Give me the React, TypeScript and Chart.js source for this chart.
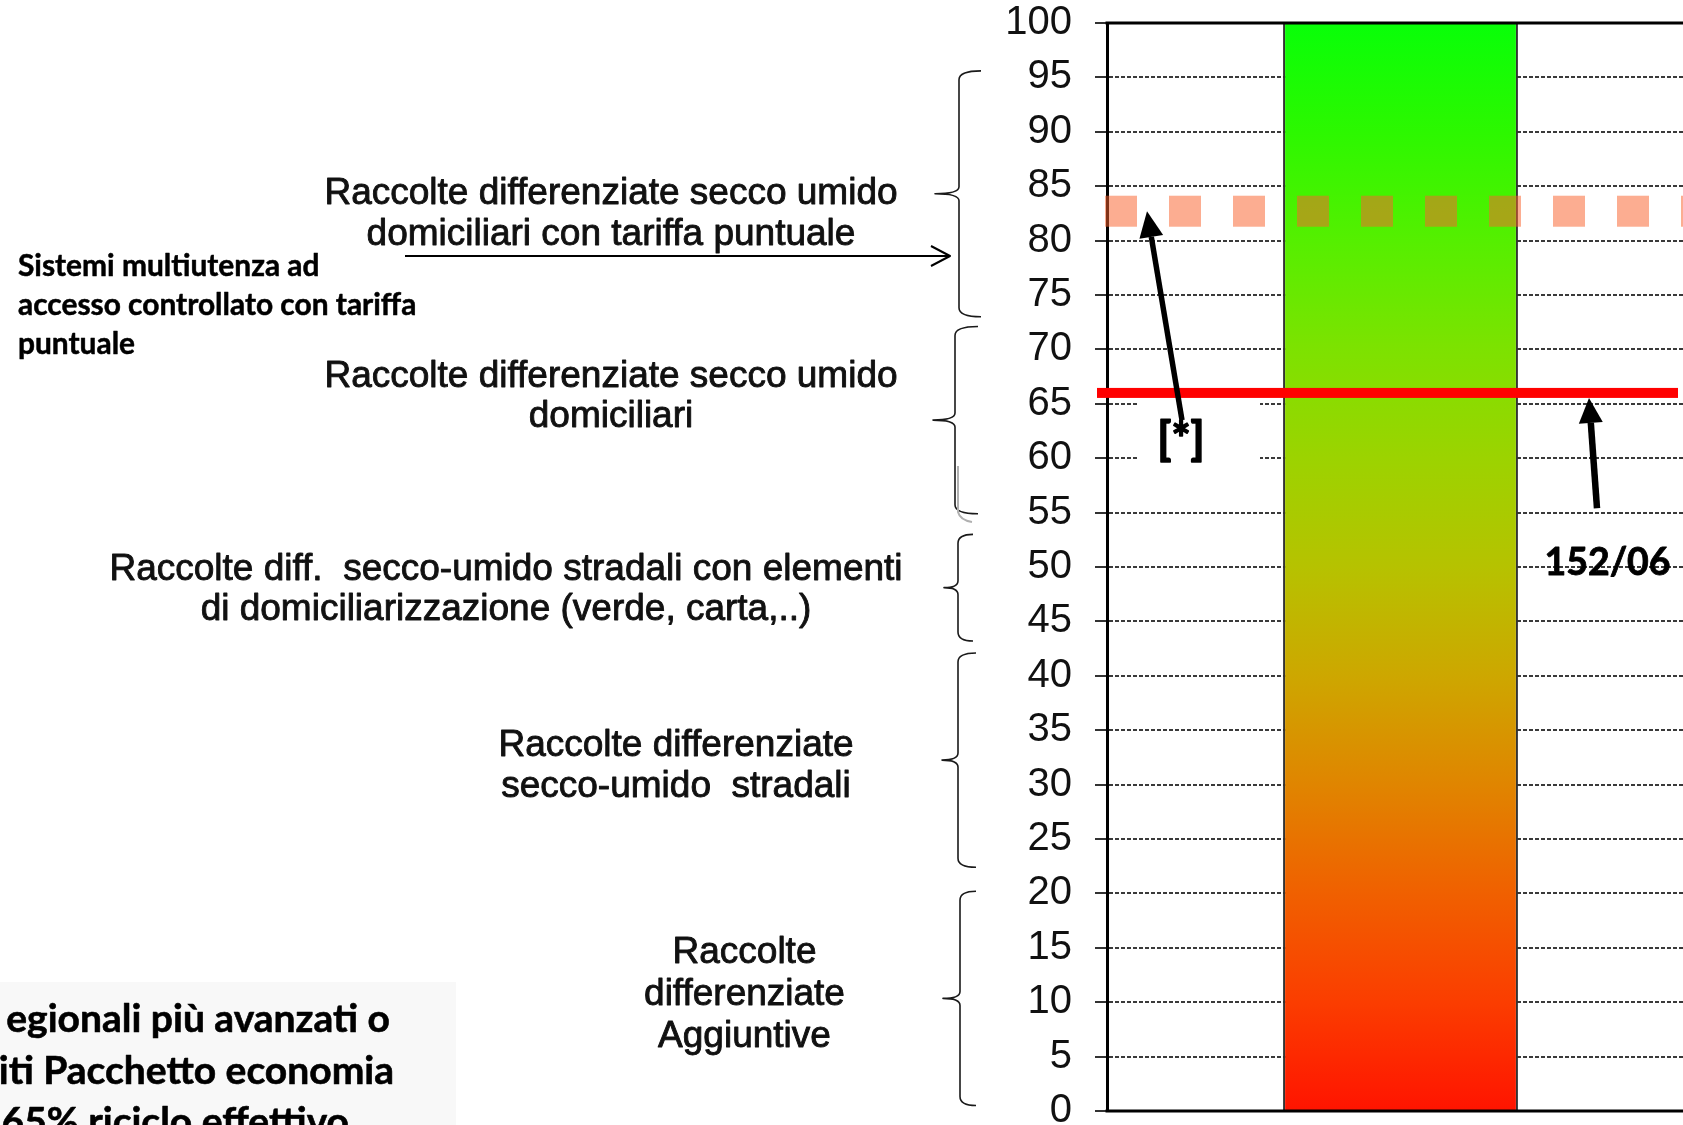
import React, { useEffect, useRef } from 'react';
import { Chart, registerables } from 'chart.js';

Chart.register(...registerables);

// ---------------- data ----------------
const categories = [''];
const barValues = [100];
const yMin = 0;
const yMax = 100;
const yStep = 5;
const redTargetLevel = 66; // "152/06"
const dashedTargetLevel = 82.7; // "[*]"
const braceTops = [95.6, 72.1, 53.0, 42.1, 20.2];
const braceBottoms = [73.0, 54.9, 43.2, 22.4, 0.5];
const braceTexts = [
  ['Raccolte differenziate secco umido', 'domiciliari con tariffa puntuale'],
  ['Raccolte differenziate secco umido', 'domiciliari'],
  ['Raccolte diff.  secco-umido stradali con elementi', 'di domiciliarizzazione (verde, carta,..)'],
  ['Raccolte differenziate', 'secco-umido  stradali'],
  ['Raccolte', 'differenziate', 'Aggiuntive'],
];
const sideNote = ['Sistemi multiutenza ad', 'accesso controllato con tariffa', 'puntuale'];
const boxNote = ['egionali più avanzati o', 'iti Pacchetto economia', '65% riciclo effettivo'];
const starLabel = '[*]';
const lawLabel = '152/06';

// ---------------- styles / layout ----------------
const ARIAL = "'Liberation Sans', Arial, sans-serif";
const BOLD = "Lato, 'Open Sans', sans-serif";
const CANVAS_W = 1720;
const CANVAS_H = 1125;

const gradientStops: [number, string][] = [
  [0, '#ff1400'],
  [0.1, '#fb3d00'],
  [0.2, '#f06000'],
  [0.3, '#e08500'],
  [0.4, '#cda700'],
  [0.5, '#b6c200'],
  [0.6, '#9cd300'],
  [0.7, '#7de200'],
  [0.8, '#55ef00'],
  [0.9, '#2cf800'],
  [1, '#08ff08'],
];

const braceGeom = [
  { tipX: 935, lineX: 959, endX: 981 },
  { tipX: 933, lineX: 955, endX: 978 },
  { tipX: 944, lineX: 958, endX: 973 },
  { tipX: 942, lineX: 958, endX: 976 },
  { tipX: 943, lineX: 960, endX: 976 },
];
const braceTextLayout = [
  { cx: 611, baseline: 204, lh: 40.7 },
  { cx: 611, baseline: 386.5, lh: 40.5 },
  { cx: 506, baseline: 579.6, lh: 40.8 },
  { cx: 676, baseline: 755.7, lh: 40.8 },
  { cx: 744.5, baseline: 962.8, lh: 42 },
];

function drawBrace(
  ctx: CanvasRenderingContext2D,
  g: { tipX: number; lineX: number; endX: number },
  yTop: number,
  yBot: number
) {
  const yTip = (yTop + yBot) / 2;
  const r = 9;
  const m = 7;
  ctx.beginPath();
  ctx.moveTo(g.endX, yTop);
  ctx.quadraticCurveTo(g.lineX, yTop, g.lineX, yTop + r);
  ctx.lineTo(g.lineX, yTip - m);
  ctx.quadraticCurveTo(g.lineX, yTip, g.tipX, yTip);
  ctx.quadraticCurveTo(g.lineX, yTip, g.lineX, yTip + m);
  ctx.lineTo(g.lineX, yBot - r);
  ctx.quadraticCurveTo(g.lineX, yBot, g.endX, yBot);
  ctx.stroke();
}

function drawArrow(
  ctx: CanvasRenderingContext2D,
  x0: number,
  y0: number,
  x1: number,
  y1: number,
  width: number,
  headLen: number,
  headHalf: number
) {
  const ang = Math.atan2(y1 - y0, x1 - x0);
  const bx = x1 - headLen * Math.cos(ang);
  const by = y1 - headLen * Math.sin(ang);
  ctx.save();
  ctx.strokeStyle = '#000';
  ctx.fillStyle = '#000';
  ctx.lineWidth = width;
  ctx.beginPath();
  ctx.moveTo(x0, y0);
  ctx.lineTo(bx, by);
  ctx.stroke();
  ctx.beginPath();
  ctx.moveTo(x1, y1);
  ctx.lineTo(bx + headHalf * Math.sin(ang), by - headHalf * Math.cos(ang));
  ctx.lineTo(bx - headHalf * Math.sin(ang), by + headHalf * Math.cos(ang));
  ctx.closePath();
  ctx.fill();
  ctx.restore();
}

function heavyText(ctx: CanvasRenderingContext2D, s: string, x: number, y: number, w: number) {
  ctx.fillText(s, x, y);
  if (w > 0) {
    ctx.lineWidth = w;
    ctx.lineJoin = 'round';
    ctx.strokeText(s, x, y);
  }
}

const overlayPlugin = {
  id: 'overlay',
  afterDatasetsDraw(chart: any) {
    const ctx: CanvasRenderingContext2D = chart.ctx;
    const area = chart.chartArea;
    const ys = chart.scales.y;
    ctx.save();

    // white box behind "[*]"
    ctx.fillStyle = '#ffffff';
    ctx.fillRect(1137, ys.getPixelForValue(redTargetLevel) + 5, 123, 72);

    // dashed salmon target line
    const yd = ys.getPixelForValue(dashedTargetLevel);
    ctx.save();
    ctx.strokeStyle = 'rgba(250,98,45,0.52)';
    ctx.lineWidth = 31;
    ctx.lineCap = 'butt';
    ctx.setLineDash([32, 32]);
    ctx.beginPath();
    ctx.moveTo(area.left - 2, yd);
    ctx.lineTo(area.right + 10, yd);
    ctx.stroke();
    ctx.restore();

    // red target line
    const yr = ys.getPixelForValue(redTargetLevel);
    ctx.fillStyle = '#ff0000';
    ctx.fillRect(area.left - 10, yr - 5, 581, 10);

    // frame (top & bottom)
    ctx.strokeStyle = '#000';
    ctx.lineWidth = 3;
    ctx.beginPath();
    ctx.moveTo(area.left - 1.5, area.top);
    ctx.lineTo(area.right + 30, area.top);
    ctx.moveTo(area.left - 1.5, area.bottom);
    ctx.lineTo(area.right + 30, area.bottom);
    ctx.stroke();

    // arrows
    drawArrow(ctx, 1182, ys.getPixelForValue(63.5), 1147, yd, 5.5, 26, 12);
    drawArrow(ctx, 1597, ys.getPixelForValue(55.4), 1589, yr + 5, 6.5, 25, 12);

    // chart labels
    ctx.fillStyle = '#000';
    ctx.strokeStyle = '#000';
    ctx.textBaseline = 'alphabetic';
    ctx.textAlign = 'center';
    ctx.font = `bold 45px ${BOLD}`;
    heavyText(ctx, starLabel, 1181, 454.5, 1.6);
    ctx.font = `bold 37.5px ${BOLD}`;
    heavyText(ctx, lawLabel, 1607.5, 575, 0.8);

    // braces
    ctx.strokeStyle = '#1a1a1a';
    ctx.lineWidth = 1.6;
    braceTops.forEach((t, i) => {
      drawBrace(ctx, braceGeom[i], ys.getPixelForValue(t), ys.getPixelForValue(braceBottoms[i]));
    });
    // faint duplicate stroke on second brace
    ctx.save();
    ctx.strokeStyle = '#b0b0b0';
    ctx.lineWidth = 2;
    ctx.beginPath();
    ctx.moveTo(958, 466);
    ctx.lineTo(958, 512);
    ctx.quadraticCurveTo(960, 520, 972, 522);
    ctx.stroke();
    ctx.restore();

    // brace texts
    ctx.fillStyle = '#111';
    ctx.strokeStyle = '#111';
    ctx.font = `37px ${ARIAL}`;
    ctx.textAlign = 'center';
    braceTexts.forEach((lines, i) => {
      const L = braceTextLayout[i];
      lines.forEach((s, j) => heavyText(ctx, s, L.cx, L.baseline + j * L.lh, 0.9));
    });

    // horizontal arrow from first text to first brace
    ctx.strokeStyle = '#000';
    ctx.lineWidth = 2;
    ctx.beginPath();
    ctx.moveTo(405, 256);
    ctx.lineTo(949, 256);
    ctx.moveTo(931, 246);
    ctx.lineTo(950, 256);
    ctx.lineTo(931, 266);
    ctx.stroke();

    // side note
    ctx.fillStyle = '#000';
    ctx.strokeStyle = '#000';
    ctx.textAlign = 'left';
    ctx.font = `bold 29.9px ${BOLD}`;
    sideNote.forEach((s, j) => heavyText(ctx, s, 18, 276 + j * 39, 0.5));

    // bottom-left box
    ctx.fillStyle = '#f8f8f8';
    ctx.fillRect(0, 982, 456, 200);
    ctx.fillStyle = '#000';
    ctx.textAlign = 'right';
    ctx.font = `bold 39px ${BOLD}`;
    const boxEnds = [390, 394, 349];
    boxNote.forEach((s, j) => heavyText(ctx, s, boxEnds[j], 1032 + j * 51.5, 0.6));

    ctx.restore();
  },
};

export default function App() {
  const ref = useRef<HTMLCanvasElement | null>(null);

  useEffect(() => {
    const canvas = ref.current;
    if (!canvas) return;
    const chart = new Chart(canvas, {
      type: 'bar',
      data: {
        labels: categories,
        datasets: [
          {
            data: barValues,
            backgroundColor: (c: any) => {
              const { chart: ch } = c;
              const a = ch.chartArea;
              if (!a) return '#8fd800';
              const g = ch.ctx.createLinearGradient(0, a.bottom, 0, a.top);
              gradientStops.forEach(([o, col]) => g.addColorStop(o, col));
              return g;
            },
            borderColor: '#333333',
            borderWidth: { left: 2, right: 2, top: 0, bottom: 0 },
            borderSkipped: false,
            barPercentage: 0.4,
            categoryPercentage: 1,
          } as any,
        ],
      },
      options: {
        responsive: false,
        animation: false,
        devicePixelRatio: 1,
        layout: { padding: { left: 967, right: 26, top: 23, bottom: 14 } },
        plugins: { legend: { display: false }, tooltip: { enabled: false } },
        scales: {
          x: {
            display: false,
          },
          y: {
            min: yMin,
            max: yMax,
            ticks: {
              stepSize: yStep,
              font: { family: ARIAL, size: 40 },
              color: '#111',
              padding: 23,
            },
            grid: {
              color: '#3a3a3a',
              lineWidth: 2,
              tickLength: 12,
              tickColor: '#333',
              tickWidth: 2,
            },
            border: { display: true, color: '#000', width: 3, dash: [4, 2] },
            afterFit: (s: any) => {
              s.width = 140;
              s.paddingTop = 0;
              s.paddingBottom = 0;
            },
          },
        },
      } as any,
      plugins: [overlayPlugin],
    });
    return () => chart.destroy();
  }, []);

  return (
    <div
      style={{
        position: 'fixed',
        left: 0,
        top: 0,
        width: 1683,
        height: 1125,
        overflow: 'hidden',
        background: '#fff',
      }}
    >
      <canvas
        ref={ref}
        width={CANVAS_W}
        height={CANVAS_H}
        style={{ position: 'absolute', left: 0, top: 0, width: CANVAS_W, height: CANVAS_H }}
      />
    </div>
  );
}
